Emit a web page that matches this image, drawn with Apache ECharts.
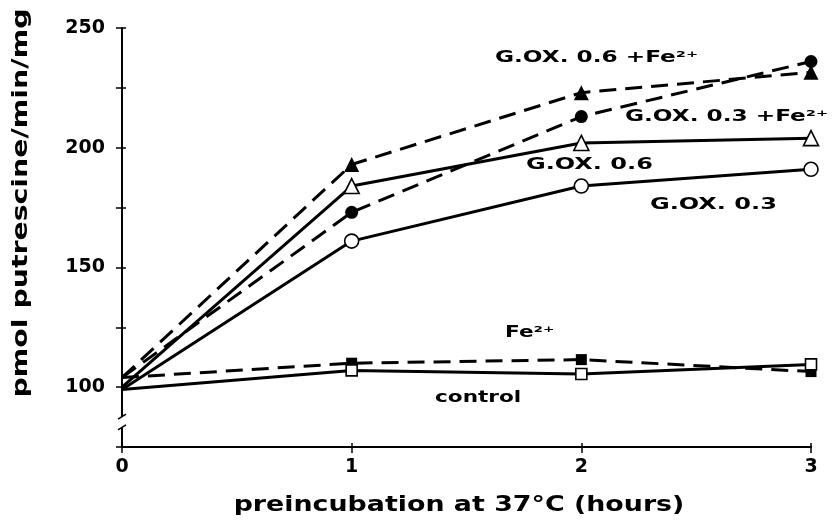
<!DOCTYPE html>
<html>
<head>
<meta charset="utf-8">
<script src="https://cdn.jsdelivr.net/npm/echarts@6.0.0/dist/echarts.min.js"></script>
<style>
  html, body { margin: 0; padding: 0; background: #fff; }
  #chart { width: 835px; height: 521px; }
</style>
</head>
<body>
<div id="chart"></div>
<script>
// preincubation time (hours)
var hours = [0, 1, 2, 3];

// pmol putrescine/min/mg
var goxFe06 = [104, 193, 223, 231.5];   // G.OX. 0.6 +Fe2+  (filled triangle, dashed)
var goxFe03 = [104, 173, 213, 236];     // G.OX. 0.3 +Fe2+  (filled circle, dashed)
var gox06   = [100, 184, 202, 204];     // G.OX. 0.6        (open triangle)
var gox03   = [99, 161, 184, 191];      // G.OX. 0.3        (open circle)
var fe      = [104, 110, 111.5, 106.5]; // Fe2+             (filled square, dashed)
var control = [99, 107, 105.5, 109.5];  // control          (open square)

var yLabelled = [100, 150, 200, 250];

var FONT = '"DejaVu Sans", sans-serif';

function makeSeries(name, vals, symbol, size, filled, dashed) {
  return {
    name: name,
    type: 'line',
    data: hours.map(function (h, i) {
      // no marker at time 0, lines just start there
      return { value: [h, vals[i]], symbol: i === 0 ? 'none' : symbol };
    }),
    symbol: symbol,
    symbolSize: size,
    showSymbol: true,
    lineStyle: { color: '#000', width: 3, type: dashed ? [17, 9] : 'solid' },
    itemStyle: {
      color: filled ? '#000' : '#fff',
      borderColor: '#000',
      borderWidth: filled ? 0 : 1.6
    },
    emphasis: { disabled: true },
    silent: true
  };
}

var chart = echarts.init(document.getElementById('chart'));

var option = {
  animation: false,
  backgroundColor: '#fff',
  grid: { left: 122, right: 24, top: 28, bottom: 74 },
  xAxis: [{
    type: 'value',
    min: 0, max: 3, interval: 1,
    axisLine: { lineStyle: { color: '#000', width: 2 } },
    axisTick: { length: 6, lineStyle: { color: '#000', width: 1.5 } },
    axisLabel: { color: '#000', fontSize: 19, fontWeight: 'bold', fontFamily: FONT, margin: 11 },
    splitLine: { show: false }
  }, {
    type: 'value',
    position: 'bottom',
    min: 0, max: 3, interval: 1,
    axisLine: { show: false },
    axisTick: { inside: true, length: 4, lineStyle: { color: '#000', width: 1.5 } },
    axisLabel: { show: false },
    splitLine: { show: false }
  }],
  yAxis: [{
    type: 'value',
    min: 75, max: 250, interval: 25,
    axisLine: { show: true, lineStyle: { color: '#000', width: 2 } },
    axisTick: { length: 6, lineStyle: { color: '#000', width: 1.5 } },
    axisLabel: {
      color: '#000', fontSize: 19, fontWeight: 'bold', fontFamily: FONT, margin: 17,
      formatter: function (v) { return yLabelled.indexOf(v) >= 0 ? String(v) : ''; }
    },
    splitLine: { show: false }
  }, {
    type: 'value',
    position: 'left',
    min: 75, max: 250, interval: 25,
    axisLine: { show: false },
    axisTick: { inside: true, length: 4, lineStyle: { color: '#000', width: 1.5 } },
    axisLabel: { show: false },
    splitLine: { show: false }
  }],
  series: [
    makeSeries('G.OX. 0.6 +Fe2+', goxFe06, 'triangle', 15, true, true),
    makeSeries('G.OX. 0.3 +Fe2+', goxFe03, 'circle', 13, true, true),
    makeSeries('G.OX. 0.6', gox06, 'triangle', 15, false, false),
    makeSeries('G.OX. 0.3', gox03, 'circle', 14, false, false),
    makeSeries('Fe2+', fe, 'rect', 11, true, true),
    makeSeries('control', control, 'rect', 11, false, false)
  ]
};

chart.setOption(option);

// axis break on the y axis and the texts
var x0 = chart.convertToPixel({ xAxisIndex: 0 }, 0);
var brTop = chart.convertToPixel({ yAxisIndex: 0 }, 87.5);
var brBot = chart.convertToPixel({ yAxisIndex: 0 }, 83);

function note(text, x, y, sx) {
  return {
    type: 'text', x: x, y: y, scaleX: sx, z: 20,
    style: { text: text, fill: '#000', fontSize: 16, fontWeight: 'bold', fontFamily: FONT, align: 'left', verticalAlign: 'middle' }
  };
}

chart.setOption({
  graphic: [
    { type: 'rect', z: 20, shape: { x: x0 - 6, y: brTop, width: 12, height: brBot - brTop }, style: { fill: '#fff' } },
    { type: 'line', z: 21, shape: { x1: x0 - 4, y1: brTop + 2, x2: x0 + 4, y2: brTop - 3 }, style: { stroke: '#000', lineWidth: 1.6 } },
    { type: 'line', z: 21, shape: { x1: x0 - 4, y1: brBot + 2, x2: x0 + 4, y2: brBot - 3 }, style: { stroke: '#000', lineWidth: 1.6 } },
    note('G.OX. 0.6 +Fe²⁺', 495, 58, 1.45),
    note('G.OX. 0.3 +Fe²⁺', 625, 117, 1.45),
    note('G.OX. 0.6', 526, 165, 1.5),
    note('G.OX. 0.3', 650, 205, 1.5),
    note('Fe²⁺', 505, 333, 1.35),
    note('control', 435, 398, 1.35),
    {
      type: 'text', x: 459, y: 505, scaleX: 1.22, z: 20,
      style: { text: 'preincubation at 37°C (hours)', fill: '#000', fontSize: 22, fontWeight: 'bold', fontFamily: FONT, align: 'center', verticalAlign: 'middle' }
    },
    {
      type: 'text', x: 22, y: 203, rotation: Math.PI / 2, scaleX: 1.35, z: 20,
      style: { text: 'pmol putrescine/min/mg', fill: '#000', fontSize: 21, fontWeight: 'bold', fontFamily: FONT, align: 'center', verticalAlign: 'middle' }
    }
  ]
});
</script>
</body>
</html>
